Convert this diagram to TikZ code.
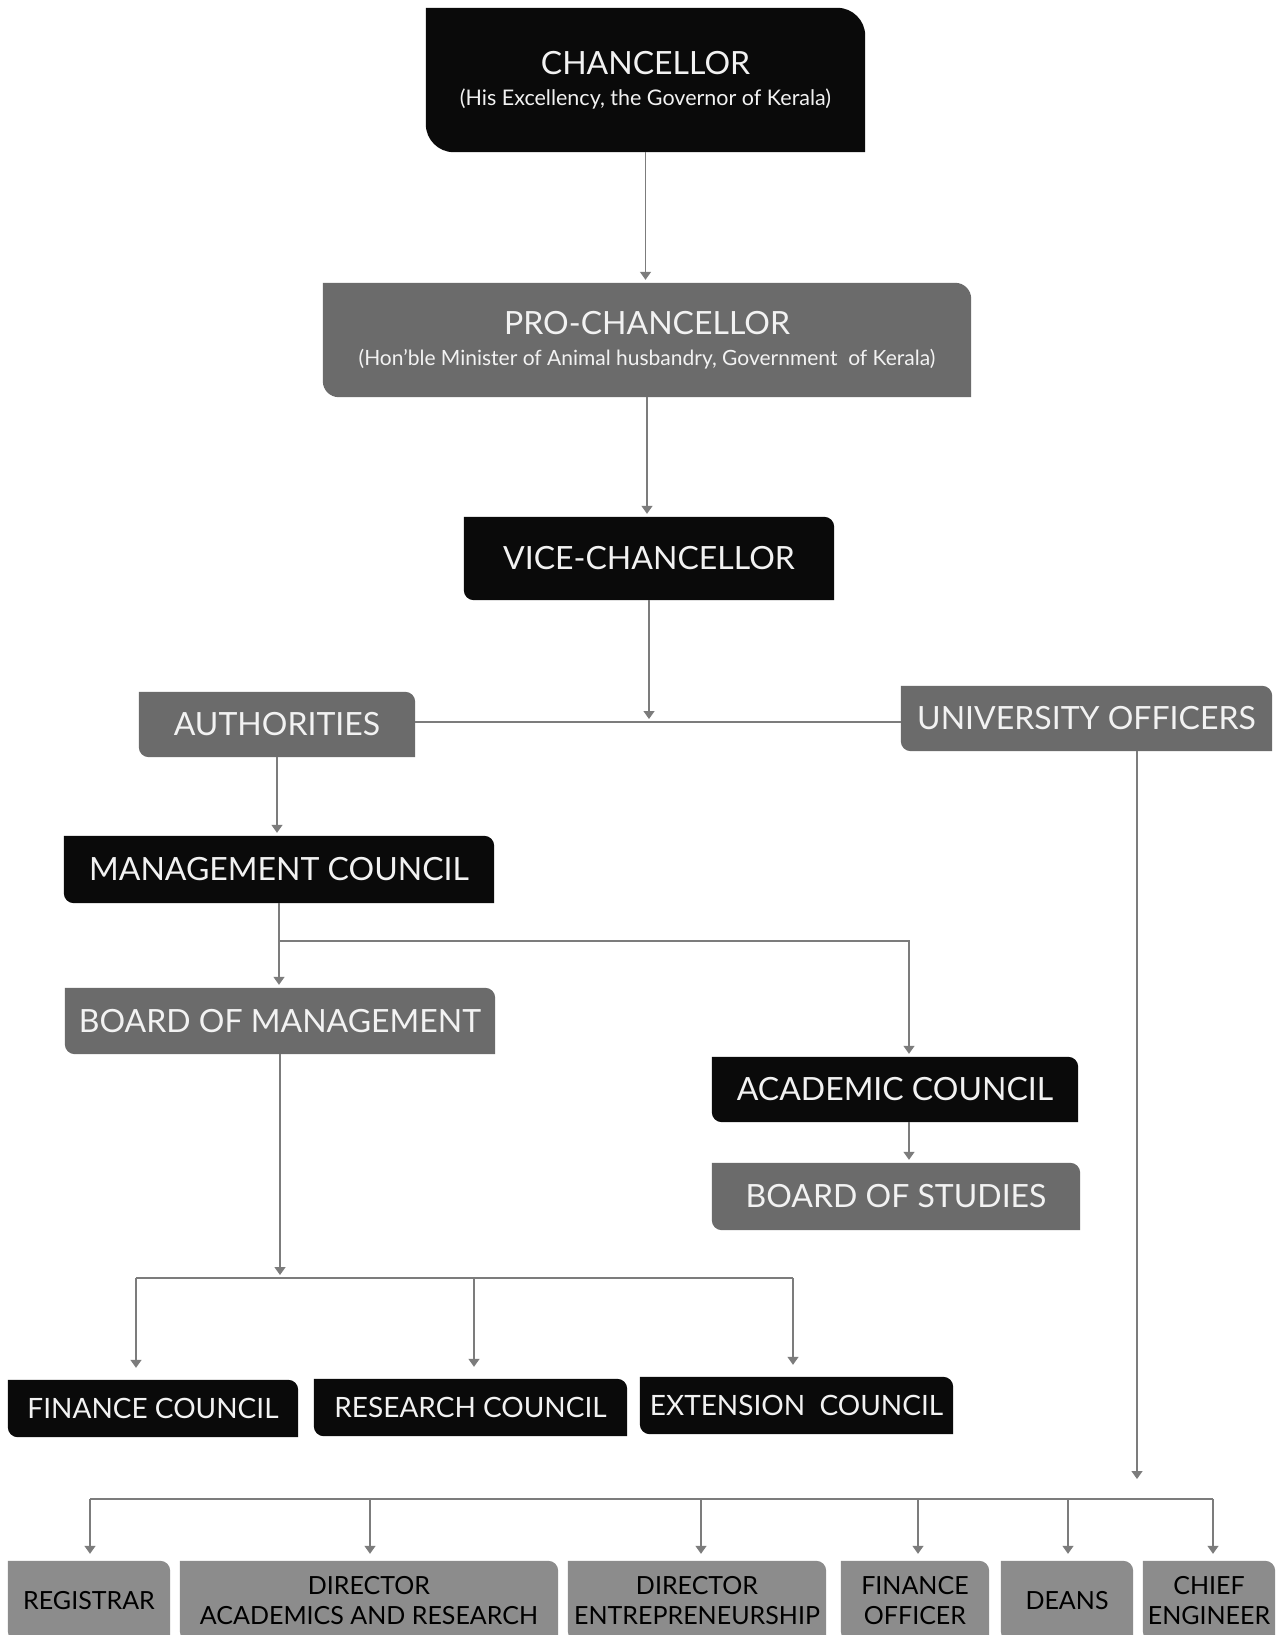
\documentclass[tikz,border=0pt]{standalone}
\usepackage{fontspec}
\setmainfont{Lato}
\usetikzlibrary{arrows.meta, positioning, backgrounds}
\definecolor{orgblack}{HTML}{0A0A0A}
\definecolor{orggrey}{HTML}{6B6B6B}
\definecolor{orglight}{HTML}{8C8C8C}
\definecolor{orgline}{HTML}{7C7C7C}
\definecolor{orgtext}{HTML}{F2F2F2}
\definecolor{orgdark}{HTML}{000000}
\begin{document}
\begin{tikzpicture}[
  x=1pt, y=1pt, >={Triangle[width=11pt,length=8pt]},
  leaf/.style={inner sep=0pt, align=center, text=orgtext,
    font=\fontsize{32}{36}\selectfont},
  mainbox/.style={leaf, minimum height=65pt},
  councilbox/.style={leaf, minimum height=57pt, font=\fontsize{28}{32}\selectfont},
  officebox/.style={inner sep=0pt, align=center, minimum height=80pt,
    text=orgdark, font=\fontsize{25}{30}\selectfont},
  link/.style={draw=orgline, line width=1.3pt},
  linkarrow/.style={link, ->, shorten >=3pt},
]
\useasboundingbox (0,0) rectangle (1285,-1635);
% --- Top of the chart ---
\node[mainbox, minimum width=439pt, minimum height=144pt] (chan) at (645.5,-80)
  {CHANCELLOR\\[-5pt]{\fontsize{21.5}{24}\selectfont (His Excellency, the Governor of Kerala)}};
\node[mainbox, minimum width=648pt, minimum height=114pt] (pro) at (647,-340)
  {PRO-CHANCELLOR\\[-5pt]{\fontsize{21}{24}\selectfont (Hon'ble Minister of Animal husbandry, Government~ of Kerala)}};
\node[mainbox, minimum width=370pt, minimum height=83pt] (vc) at (649,-558.5) {VICE-CHANCELLOR};
\draw[linkarrow] (chan.south) -- (chan.south |- pro.north);
\draw[linkarrow] (pro.south) -- (pro.south |- vc.north);
% --- Authorities and officers ---
\node[mainbox, minimum width=276pt] (auth) at (277,-724.5) {AUTHORITIES};
\node[mainbox, minimum width=371pt] (uo) at (1086.5,-718.5) {UNIVERSITY OFFICERS};
\coordinate (jvc) at (650,-722);
\draw[link] (auth.east |- jvc) -- (uo.west |- jvc);
\draw[linkarrow] (vc.south) -- (vc.south |- jvc);
% --- Councils under the authorities ---
\node[mainbox, minimum width=430pt, minimum height=67pt] (mc) at (279,-869.5) {MANAGEMENT COUNCIL};
\node[mainbox, minimum width=430pt, minimum height=66pt] (bom) at (280,-1021) {BOARD OF MANAGEMENT};
\node[mainbox, minimum width=366pt] (ac) at (895,-1089.5) {ACADEMIC COUNCIL};
\node[mainbox, minimum width=368pt, minimum height=67pt] (bos) at (896,-1196.5) {BOARD OF STUDIES};
\draw[linkarrow] (auth.south) -- (auth.south |- mc.north);
\coordinate (jmc) at (279,-941);
\coordinate (jac) at (909,-941);
\draw[linkarrow] (mc.south) -- (mc.south |- bom.north);
\draw[linkarrow] (jmc) -- (jac) -- (jac |- ac.north);
\draw[linkarrow] (jac |- ac.south) -- (jac |- bos.north);
% --- Finance, research, extension ---
\node[councilbox, minimum width=290pt] (fc) at (153,-1408.5) {FINANCE COUNCIL};
\node[councilbox, minimum width=313pt] (rc) at (470.5,-1407.5) {RESEARCH COUNCIL};
\node[councilbox, minimum width=313pt] (ec) at (796.5,-1405.5) {EXTENSION~ COUNCIL};
\coordinate (jbom) at (280,-1278);
\coordinate (jfc) at (136,-1278);
\coordinate (jrc) at (474,-1278);
\coordinate (jec) at (793,-1278);
\draw[linkarrow] (bom.south) -- (bom.south |- jbom);
\draw[link] (jfc) -- (jec);
\foreach \j/\n in {jfc/fc, jrc/rc, jec/ec}
  \draw[linkarrow, shorten >=12pt] (\j) -- (\j |- \n.north);
% --- University officers ---
\node[officebox, minimum width=162pt] (reg) at (89,-1601) {REGISTRAR};
\node[officebox, minimum width=378pt] (dar) at (369,-1601) {DIRECTOR\\ACADEMICS AND RESEARCH};
\node[officebox, minimum width=258pt] (dent) at (697,-1601) {DIRECTOR\\ENTREPRENEURSHIP};
\node[officebox, minimum width=148pt] (fo) at (915,-1601) {FINANCE\\OFFICER};
\node[officebox, minimum width=132pt] (deans) at (1067,-1601) {DEANS};
\node[officebox, minimum width=132pt] (ce) at (1209,-1601) {CHIEF\\ENGINEER};
\coordinate (juo) at (1137,-1499);
\coordinate (jreg) at (90,-1499);
\coordinate (jdar) at (370,-1499);
\coordinate (jdent) at (701,-1499);
\coordinate (jfo) at (918,-1499);
\coordinate (jdeans) at (1068,-1499);
\coordinate (jce) at (1213,-1499);
\draw[linkarrow] (uo.south -| juo) -- ([yshift=17]juo);
\draw[link] (jreg) -- (jce);
\foreach \j/\n in {jreg/reg, jdar/dar, jdent/dent, jfo/fo, jdeans/deans, jce/ce}
  \draw[linkarrow, shorten >=7pt] (\j) -- (\j |- \n.north);
% --- Page and leaf-shaped box fills ---
\begin{scope}[on background layer]
  \fill[white] (0,0) rectangle (1285,-1635);
  \foreach \n/\c/\r in {chan/orgblack/28pt, pro/orggrey/16pt, vc/orgblack/10pt,
      auth/orggrey/10pt, uo/orggrey/10pt, mc/orgblack/10pt, bom/orggrey/10pt,
      ac/orgblack/10pt, bos/orggrey/10pt, fc/orgblack/10pt, rc/orgblack/10pt,
      ec/orgblack/10pt, reg/orglight/10pt, dar/orglight/10pt, dent/orglight/10pt,
      fo/orglight/10pt, deans/orglight/10pt, ce/orglight/10pt}
    \fill[\c] (\n.north west) -- ([xshift=-\r]\n.north east)
      arc[start angle=90, end angle=0, radius=\r] -- (\n.south east)
      -- ([xshift=\r]\n.south west)
      arc[start angle=270, end angle=180, radius=\r] -- cycle;
\end{scope}
\end{tikzpicture}
\end{document}
